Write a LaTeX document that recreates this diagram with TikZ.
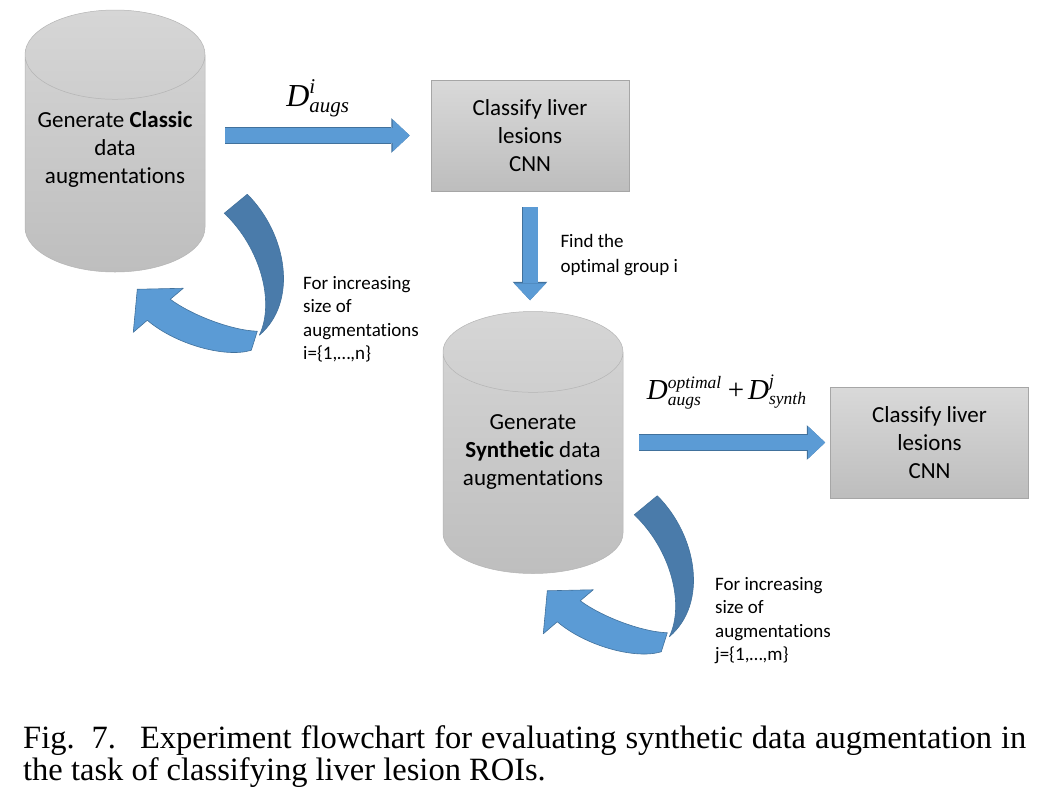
\documentclass[tikz,border=0pt]{standalone}
\usepackage{fontspec}
\setmainfont{Carlito}[Ligatures=NoCommon]
\newfontfamily\tnr{Liberation Serif}
\usetikzlibrary{shapes.geometric,arrows.meta}

\definecolor{flowFill}{HTML}{5B9BD5}
\definecolor{flowEdge}{HTML}{41719C}
\definecolor{ribbonBack}{HTML}{4A7BAA}
\definecolor{cylTop}{HTML}{D6D6D6}
\definecolor{cylBot}{HTML}{BEBEBE}
\definecolor{cylEdge}{HTML}{B4B4B4}
\definecolor{boxTop}{HTML}{D9D9D9}
\definecolor{boxBot}{HTML}{BDBDBD}
\definecolor{boxEdge}{HTML}{A6A6A6}

% D with super- and subscript in Times italic
\newcommand{\dvar}[4]{{\tnr\itshape\fontsize{#1}{#1}\selectfont%
  $\hbox{D}^{\hbox{\tnr\itshape\fontsize{#2}{#2}\selectfont#3}}_{\hbox{\tnr\itshape\fontsize{#2}{#2}\selectfont#4}}$}}

\begin{document}
\begin{tikzpicture}[x=1pt, y=-1pt,
    store/.style={cylinder, shape border rotate=90, aspect=0.577, anchor=shape center,
        minimum width=180pt, minimum height=262pt, inner sep=0pt,
        top color=cylTop, bottom color=cylBot, draw=cylEdge, line width=0.5pt,
        align=center, font=\fontsize{23}{28}\selectfont},
    task/.style={rectangle, minimum width=198pt, minimum height=111pt,
        top color=boxTop, bottom color=boxBot, draw=boxEdge, line width=0.6pt,
        align=center, font=\fontsize{23}{28}\selectfont},
    note/.style={align=left, inner sep=0pt, font=\fontsize{19}{23.5}\selectfont},
    capt/.style={inner sep=0pt, font=\tnr\fontsize{32.5}{33}\selectfont},
    flow/.style={draw=flowFill, line width=15pt,
        -{Triangle[length=17pt, width=32pt, line width=0pt]},
        preaction={draw=flowEdge, line width=16.4pt,
            -{Triangle[length=18.4pt, width=34.6pt, line width=0pt]}}},
    ribbon/.style={draw=flowEdge, line width=0.6pt, line join=round, fill=flowFill},
    loopback/.pic={
        \filldraw[ribbon] (-35,27) .. controls (-15,42) and (25,58) .. (52,59)
            -- (46,78) .. controls (20,86) and (-30,72) .. (-58,48)
            -- (-72,60) -- (-68,17) -- (-22,16) -- cycle;
        \filldraw[ribbon, fill=ribbonBack] (42,-78) .. controls (82,-38) and (93,30) .. (54,63)
            .. controls (70,30) and (55,-25) .. (19,-59) -- cycle;
    }]

    \path[fill=white] (0,0) rectangle (1040,801);

    % Stores and classifiers
    \node[store] (cylA) at (115,141) {Generate \textbf{Classic}\\data\\augmentations\\[5pt]\rule{0pt}{0pt}};
    \node[task] (boxA) at (530,135.5) {Classify liver\\lesions\\CNN};
    \node[store] (cylB) at (533,442.5) {Generate\\\textbf{Synthetic} data\\augmentations\\[-3pt]\rule{0pt}{0pt}};
    \node[task] (boxB) at (929.5,442.5) {Classify liver\\lesions\\CNN};

    % Block arrows
    \draw[flow, shorten <=20pt, shorten >=21pt] (cylA.east |- boxA.west) -- (boxA.west)
        node[midway, anchor=base, yshift=29.5pt, inner sep=0pt] (augsA) {\dvar{32}{21}{i}{augs}};
    \draw[flow, shorten <=16pt, shorten >=11pt] (boxA.south) -- (boxA.south |- cylB.north)
        node[midway, anchor=west, xshift=23pt, yshift=-3.5pt, note, font=\fontsize{19}{25}\selectfont] (findOpt)
        {Find the\\optimal group i};
    \draw[flow, shorten <=16pt, shorten >=5pt] (cylB.east |- boxB.west) -- (boxB.west)
        node[midway, anchor=base, yshift=43.5pt, inner sep=0pt] (augsB)
        {\dvar{29}{17.5}{optimal}{augs}\hspace{6pt}{\tnr\fontsize{29}{29}\selectfont +}\hspace{4pt}\dvar{29}{17.5}{j}{synth}};

    % Loops back to the stores
    \pic at (cylA.east |- cylA.south) {loopback};
    \pic at ([xshift=-8pt]cylB.east |- cylB.south) {loopback};
    \node[note, anchor=north west] (iterA) at (303,276) {For increasing\\size of\\augmentations\\i=\{1,…,n\}};
    \node[note, anchor=north west] (iterB) at (715,577) {For increasing\\size of\\augmentations\\j=\{1,…,m\}};

    % Caption
    \node[capt, anchor=base west] (captA) at (23,748)
        {\makebox[1003pt][s]{Fig.\hspace{17pt}7.\hspace{24pt}Experiment flowchart for evaluating synthetic data augmentation in}};
    \node[capt, anchor=base west] (captB) at (23,780) {the task of classifying liver lesion ROIs.};
\end{tikzpicture}
\end{document}
